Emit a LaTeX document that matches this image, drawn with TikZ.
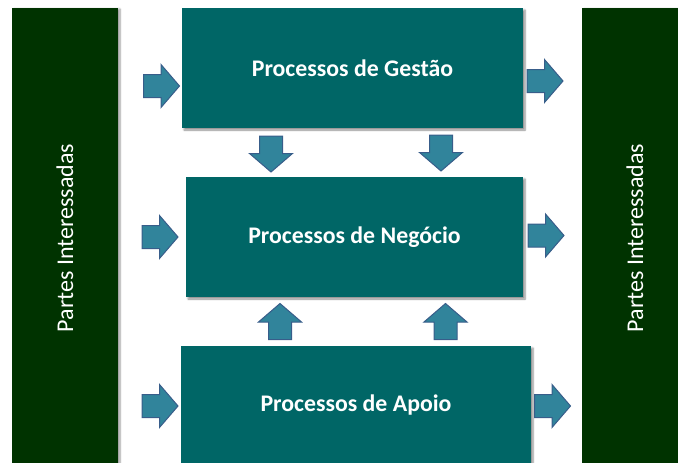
\documentclass[tikz,border=0pt]{standalone}
\usepackage{fontspec}
\setmainfont{Carlito}
\usetikzlibrary{shadows.blur}

\definecolor{barra}{RGB}{0,51,0}
\definecolor{caixa}{RGB}{0,102,102}
\definecolor{seta}{RGB}{49,132,155}
\definecolor{setaborda}{RGB}{56,93,138}

\tikzset{
  processo/.style={draw=none, fill=caixa, text=white, minimum height=120, font=\bfseries\fontsize{23.8}{28}\selectfont,
    blur shadow={shadow xshift=2pt, shadow yshift=-2pt, shadow blur steps=6, shadow opacity=45}},
  partes/.style={draw=none, fill=barra, text=white, minimum width=106, minimum height=460, font=\fontsize{24}{28}\selectfont,
    blur shadow={shadow xshift=2pt, shadow yshift=-1pt, shadow blur steps=6, shadow opacity=40}},
  blockarrow/.pic={
    \draw[fill=seta, draw=setaborda, line width=1pt, line join=miter]
      (-18,-11.5) -- (-0.5,-11.5) -- (-0.5,-21.5) -- (18,0) -- (-0.5,21.5) -- (-0.5,11.5) -- (-18,11.5) -- cycle;
  }
}

\begin{document}
\begin{tikzpicture}[x=1pt, y=-1pt]
\useasboundingbox (0,0) rectangle (678,463);
\clip (0,0) rectangle (678,463);

\node[partes] (pe) at (65,238) {\rotatebox{90}{Partes Interessadas}};
\node[partes] (pd) at (635,238) {\rotatebox{90}{Partes Interessadas}};

\node[processo, minimum width=341] (gestao) at (352.5,68) {Processos de Gestão};
\node[processo, minimum width=337] (negocio) at (354.5,237) {Processos de Negócio};
\node[processo, minimum width=350, minimum height=118] (apoio) at (356,405) {Processos de Apoio};

\pic at (161.5,86) {blockarrow};
\pic at (160,237) {blockarrow};
\pic at (160,406) {blockarrow};

\pic at (545,81) {blockarrow};
\pic at (546,235.5) {blockarrow};
\pic at (552.5,406) {blockarrow};

\pic[rotate=-90] at (271,154) {blockarrow};
\pic[rotate=-90] at (441,153) {blockarrow};
\pic[rotate=90] at (280,321.5) {blockarrow};
\pic[rotate=90] at (445.5,321.5) {blockarrow};

\end{tikzpicture}
\end{document}
